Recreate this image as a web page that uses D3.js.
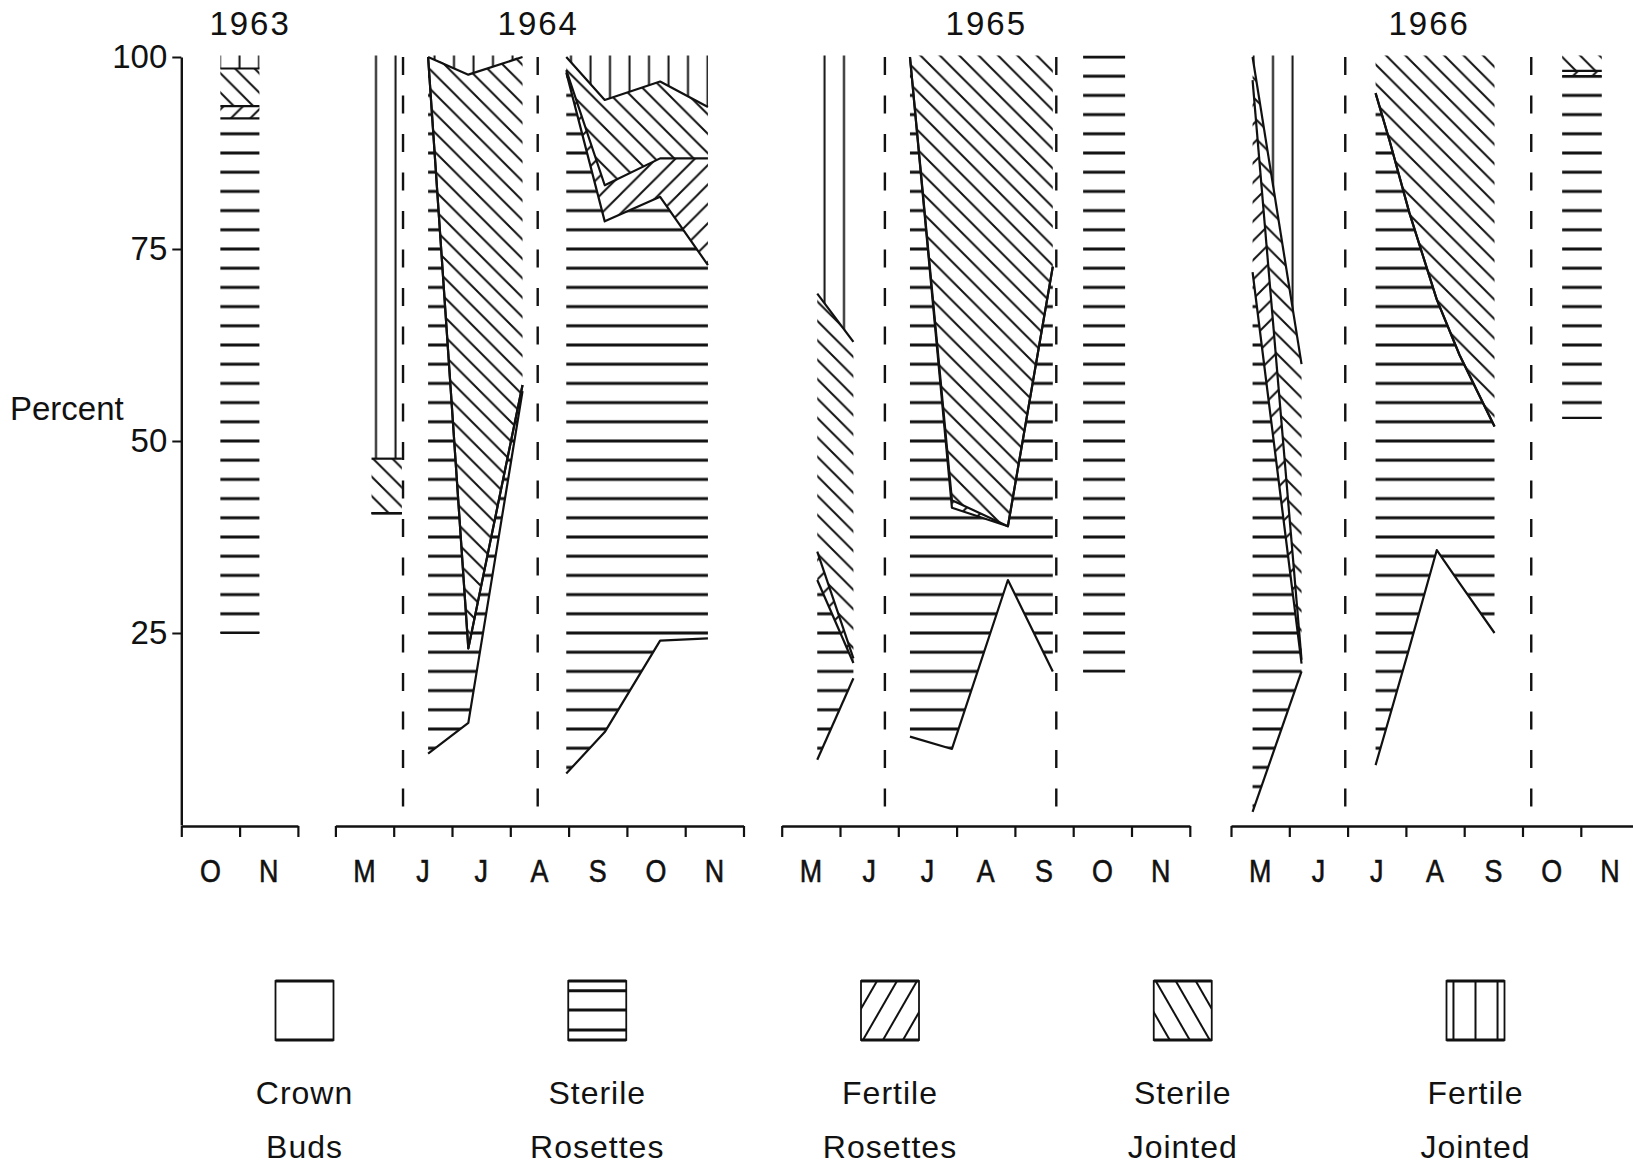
<!DOCTYPE html>
<html><head><meta charset="utf-8">
<script src="https://cdn.jsdelivr.net/npm/d3@7"></script>
<style>
html,body{margin:0;padding:0;background:#fff;}
svg{display:block;}
text{font-family:"Liberation Sans",Arial,sans-serif;fill:#111;}
</style></head><body>
<svg id="chart" width="1633" height="1165"></svg>
<script>
// ---------------- DATA ----------------
const categories = ["Crown Buds","Sterile Rosettes","Fertile Rosettes","Sterile Jointed","Fertile Jointed"];
const legendLabels = [["Crown","Buds"],["Sterile","Rosettes"],["Fertile","Rosettes"],["Sterile","Jointed"],["Fertile","Jointed"]];
const years = ["1963","1964","1965","1966"];
const yearFirstMonth = [10,5,5,5];
const monthLetters = ["J","F","M","A","M","J","J","A","S","O","N","D"];
const percentTicks = [25,50,75,100];

// sampled zones (month as decimal, e.g. 6.5 = mid June); values are percent of plants
const zoneYear = ["1963","1964","1964","1964","1965","1965","1965","1966","1966","1966"];
const zoneMonths = [
  [10.67, 11.34],
  [5.62, 6.14],
  [6.59, 7.28, 8.21],
  [8.96, 9.62, 10.57, 11.39],
  [5.61, 6.23],
  [7.20, 7.92, 8.88, 9.65],
  [10.17, 10.89],
  [5.37, 6.21],
  [7.48, 7.72, 8.06, 8.53, 8.92, 9.52],
  [10.68, 11.36]
];
const crownBuds = [
  [25, 25],
  [40.6, 40.6],
  [9.3, 13.3, 56.5],
  [6.7, 12.1, 24.0, 24.3],
  [8.5, 19.1],
  [11.5, 9.9, 31.9, 20.0],
  [20, 20],
  [1.7, 20.0],
  [7.8, 14.1, 23.1, 35.8, 31.5, 25.0],
  [53, 53]
];
const sterileRosettes = [
  [67, 67],
  [0, 0],
  [90.7, 9.7, 0.8],
  [91.3, 66.5, 57.8, 48.6],
  [23.4, 2.0],
  [88.5, 31.4, 7.0, 52.7],
  [80, 80],
  [70.3, 1.0],
  [87.5, 75.0, 56.6, 32.6, 29.7, 26.9],
  [44.5, 44.5]
];
const fertileRosettes = [
  [1.6, 1.6],
  [0, 0],
  [0, 0, 0],
  [0.3, 4.7, 5.0, 13.9],
  [3.7, 0.6],
  [0, 1.0, 0, 0],
  [0, 0],
  [25.0, 0.5],
  [0, 0, 0, 0, 0, 0],
  [0.7, 0.7]
];
const sterileJointed = [
  [4.9, 4.9],
  [7.1, 7.1],
  [0, 74.7, 42.7],
  [1.7, 11.1, 10.0, 6.7],
  [33.6, 41.2],
  [0, 57.7, 61.1, 27.3],
  [0, 0],
  [3.0, 38.5],
  [4.7, 10.9, 20.3, 31.6, 38.8, 48.1],
  [1.8, 1.8]
];
const fertileJointed = [
  [1.5, 1.5],
  [52.3, 52.3],
  [0, 2.3, 0],
  [0, 5.6, 3.2, 6.5],
  [30.8, 37.1],
  [0, 0, 0, 0],
  [0, 0],
  [0, 40.0],
  [0, 0, 0, 0, 0, 0],
  [0, 0]
];
const dividerYear = ["1964","1964","1965","1965","1966","1966"];
const dividerMonth = [6.16, 8.47, 6.77, 9.71, 6.96, 10.15];

// ---------------- LAYOUT ----------------
const monthWidth = 58.3;
const panelLeft = {"1963":181.3,"1964":335.4,"1965":781.7,"1966":1231.0};
const yearLabelMonth = {"1963":11.18,"1964":8.48,"1965":8.51,"1966":8.40};
const ink = "#111";

const svg = d3.select("#chart");
svg.append("rect").attr("width",1633).attr("height",1165).attr("fill","#fff");

const y = d3.scaleLinear().domain([0,100]).range([825,57]);
const xScales = {};
years.forEach((yr,i)=>{
  const m0 = yearFirstMonth[i];
  xScales[yr] = d3.scaleLinear().domain([m0,12]).range([panelLeft[yr], panelLeft[yr] + (12-m0)*monthWidth]);
});

// ---------------- PATTERNS ----------------
const defs = svg.append("defs");
const hs = (y(0)-y(2.5));
const ph = defs.append("pattern").attr("id","pat-h").attr("patternUnits","userSpaceOnUse")
  .attr("width",20).attr("height",hs).attr("x",0).attr("y",y(0)-hs/2);
ph.append("line").attr("x1",-1).attr("x2",21).attr("y1",hs/2).attr("y2",hs/2).attr("stroke",ink).attr("stroke-width",3);

const s = 19.4;
const pb = defs.append("pattern").attr("id","pat-b").attr("patternUnits","userSpaceOnUse")
  .attr("width",s).attr("height",s).attr("x",-8).attr("y",0);
pb.append("path").attr("d",`M-2,-2L${s+2},${s+2}M${s-2},-2L${s+2},2M-2,${s-2}L2,${s+2}`)
  .attr("stroke",ink).attr("stroke-width",2).attr("fill","none");

const pf = defs.append("pattern").attr("id","pat-f").attr("patternUnits","userSpaceOnUse")
  .attr("width",s).attr("height",s).attr("x",0).attr("y",0);
pf.append("path").attr("d",`M-2,${s+2}L${s+2},-2M-2,2L2,-2M${s-2},${s+2}L${s+2},${s-2}`)
  .attr("stroke",ink).attr("stroke-width",2).attr("fill","none");

const pv = defs.append("pattern").attr("id","pat-v").attr("patternUnits","userSpaceOnUse")
  .attr("width",19.5).attr("height",20).attr("x",0).attr("y",0);
pv.append("line").attr("x1",5.5).attr("x2",5.5).attr("y1",-1).attr("y2",21).attr("stroke",ink).attr("stroke-width",2);

const patIds = [null,"pat-h","pat-f","pat-b","pat-v"];
const keys = ["crown","sR","fR","sJ","fJ"];

// ---------------- ZONES ----------------
const fillG = svg.append("g");
const lineG = svg.append("g");
zoneYear.forEach((yr,z)=>{
  const x = xScales[yr];
  const rows = zoneMonths[z].map((m,i)=>({
    m, crown:crownBuds[z][i], sR:sterileRosettes[z][i], fR:fertileRosettes[z][i],
    sJ:sterileJointed[z][i], fJ:fertileJointed[z][i]
  }));
  const series = d3.stack().keys(keys)(rows);
  // let the top-most hatch line at 100 % show in full
  const top = v => v >= 99.99 ? 100.2 : v;
  const area = d3.area().x(d=>x(d.data.m)).y0(d=>y(d[0])).y1(d=>y(top(d[1])));
  series.forEach((sr,k)=>{
    if(k===0) return;
    if(d3.max(sr,d=>d[1]-d[0]) < 0.01) return;
    fillG.append("path").attr("d",area(sr)).attr("fill",`url(#${patIds[k]})`).attr("stroke","none");
  });
  const line = d3.line().x(d=>x(d.data.m)).y(d=>y(d[1]));
  series.forEach((sr,k)=>{
    if(k===4) return;
    if(d3.max(sr,d=>100-d[1]) < 0.05) return;
    lineG.append("path").attr("d",line(sr)).attr("fill","none").attr("stroke",ink)
      .attr("stroke-width",2.2).attr("stroke-linejoin","round");
  });
});

// ---------------- DIVIDERS ----------------
dividerYear.forEach((yr,i)=>{
  const xx = xScales[yr](dividerMonth[i]);
  svg.append("line").attr("x1",xx).attr("x2",xx).attr("y1",y(100)).attr("y2",y(2.3))
    .attr("stroke",ink).attr("stroke-width",2.4).attr("stroke-dasharray","18,20.5");
});

// ---------------- AXES ----------------
years.forEach((yr,i)=>{
  const x = xScales[yr];
  const m0 = yearFirstMonth[i];
  const ax = d3.axisBottom(x).tickValues(d3.range(m0,13)).tickFormat("").tickSize(11).tickSizeOuter(0);
  const ag = svg.append("g").attr("transform",`translate(0,${y(0)+1})`).call(ax);
  ag.select(".domain").attr("stroke",ink).attr("stroke-width",2.6);
  ag.selectAll(".tick line").attr("stroke",ink).attr("stroke-width",2.2);
  d3.range(m0,12).forEach(m=>{
    svg.append("text").attr("transform",`translate(${x(m+0.5)},882) scale(0.84,1)`).attr("text-anchor","middle")
      .attr("font-size",32).attr("stroke",ink).attr("stroke-width",0.6)
      .text(monthLetters[m-1]);
  });
  svg.append("text").attr("x",x(yearLabelMonth[yr])).attr("y",35).attr("text-anchor","middle")
    .attr("font-size",33).attr("letter-spacing",2).text(yr);
});

const yAx = d3.axisLeft(y).tickValues(percentTicks).tickSize(9).tickSizeOuter(0).tickPadding(5);
const yg = svg.append("g").attr("transform",`translate(${panelLeft["1963"]},0)`).call(yAx);
yg.attr("font-size",33).attr("font-family",'"Liberation Sans",Arial,sans-serif');
yg.select(".domain").attr("stroke",ink).attr("stroke-width",2.4);
yg.selectAll(".tick line").attr("stroke",ink).attr("stroke-width",2);
yg.selectAll(".tick text").attr("fill",ink);

svg.append("text").attr("x",10).attr("y",420).attr("font-size",33).text("Percent");

// ---------------- LEGEND ----------------
const legX0 = 304.5, legStep = 292.75, boxW = 58, boxH = 59, boxTop = 981;
categories.forEach((c,k)=>{
  const cx = legX0 + k*legStep, bx = cx - boxW/2;
  const g = svg.append("g");
  const cid = "lclip"+k;
  defs.append("clipPath").attr("id",cid).append("rect").attr("x",bx).attr("y",boxTop).attr("width",boxW).attr("height",boxH);
  const inner = g.append("g").attr("clip-path",`url(#${cid})`);
  if(k===1){
    [9.7,29,49].forEach(dy=> inner.append("line").attr("x1",bx).attr("x2",bx+boxW).attr("y1",boxTop+dy).attr("y2",boxTop+dy)
      .attr("stroke",ink).attr("stroke-width",3));
  } else if(k===2){
    d3.range(-2,4).forEach(j=>{
      const b = bx + j*20 + 2;
      inner.append("line").attr("x1",b).attr("y1",boxTop+boxH).attr("x2",b+34).attr("y2",boxTop).attr("stroke",ink).attr("stroke-width",2);
    });
  } else if(k===3){
    d3.range(-2,4).forEach(j=>{
      const t = bx + j*20 + 2;
      inner.append("line").attr("x1",t).attr("y1",boxTop).attr("x2",t+34).attr("y2",boxTop+boxH).attr("stroke",ink).attr("stroke-width",2);
    });
  } else if(k===4){
    [0.12,0.5,0.88].forEach(f=> inner.append("line").attr("x1",bx+f*boxW).attr("x2",bx+f*boxW).attr("y1",boxTop).attr("y2",boxTop+boxH)
      .attr("stroke",ink).attr("stroke-width",2));
  }
  g.append("rect").attr("x",bx).attr("y",boxTop).attr("width",boxW).attr("height",boxH).attr("fill","none").attr("stroke",ink).attr("stroke-width",1.8);
  [boxTop, boxTop+boxH].forEach(yy=> g.append("line").attr("x1",bx).attr("x2",bx+boxW).attr("y1",yy).attr("y2",yy).attr("stroke",ink).attr("stroke-width",3.2));
  g.append("text").attr("x",cx).attr("y",1104).attr("text-anchor","middle").attr("font-size",32).attr("letter-spacing",1).text(legendLabels[k][0]);
  g.append("text").attr("x",cx).attr("y",1158).attr("text-anchor","middle").attr("font-size",32).attr("letter-spacing",1).text(legendLabels[k][1]);
});
</script>
</body></html>
